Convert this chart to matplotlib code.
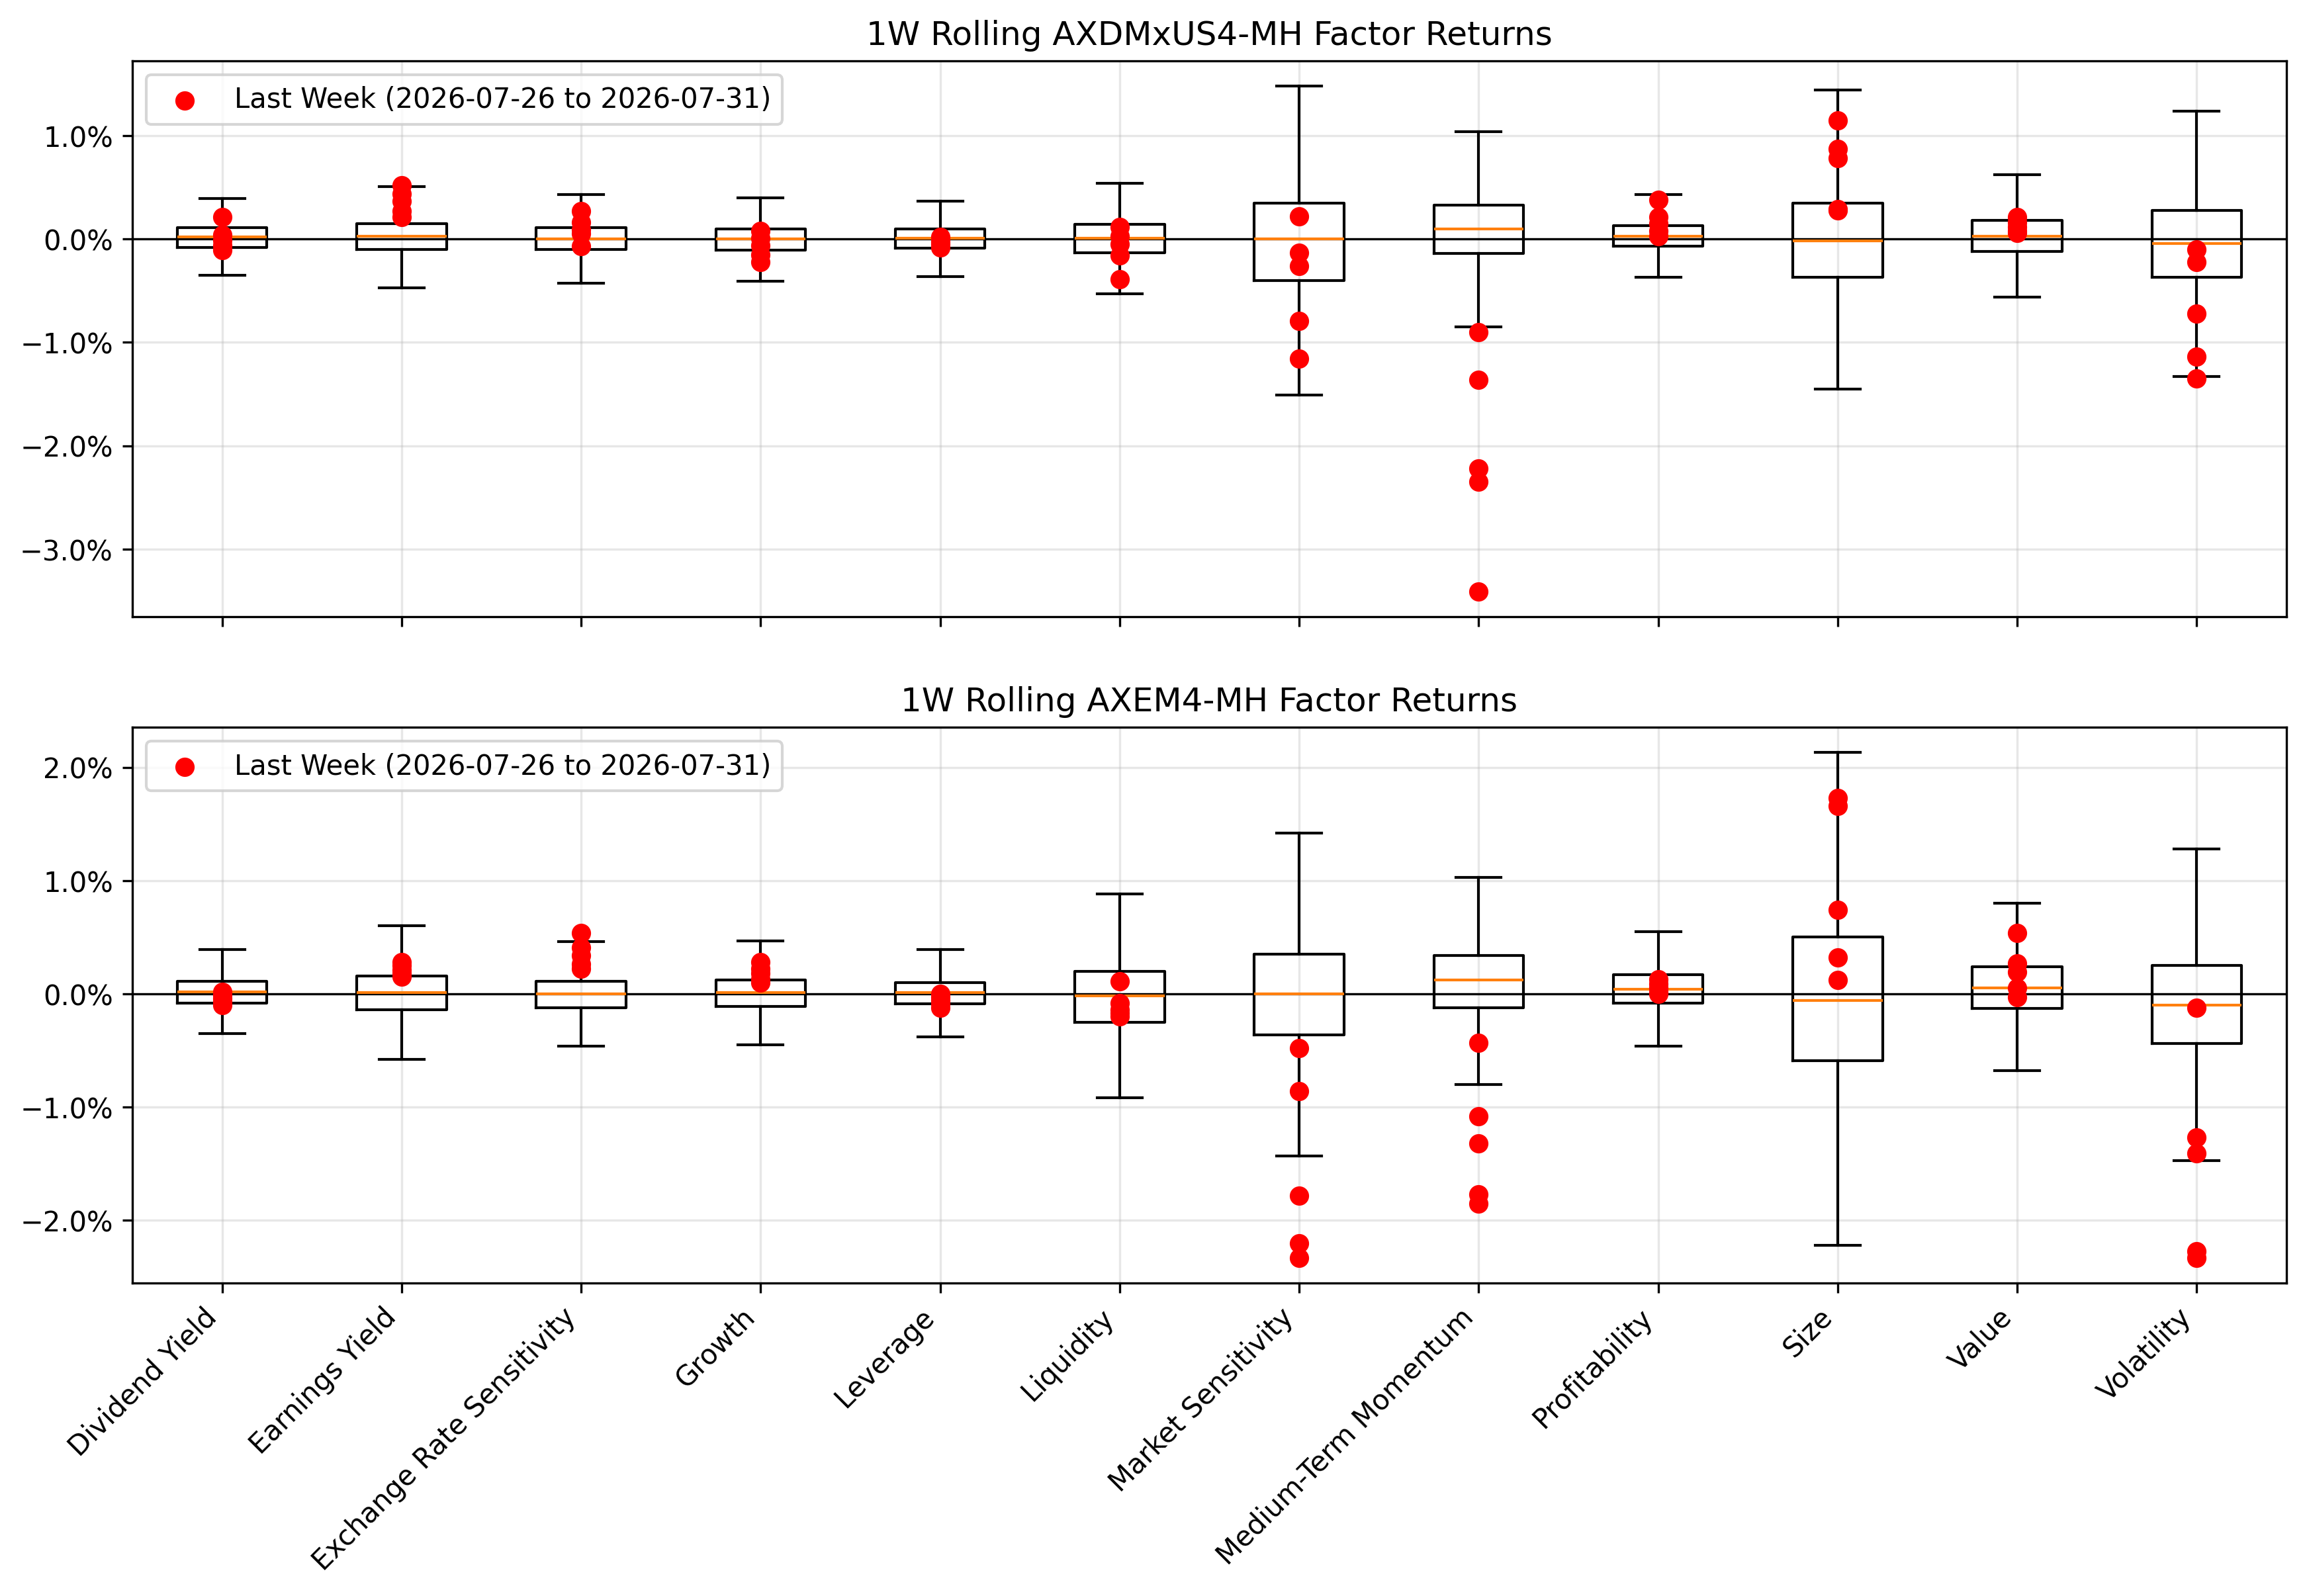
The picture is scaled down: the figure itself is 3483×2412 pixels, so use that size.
import numpy as np
import matplotlib
matplotlib.use("Agg")
import matplotlib.pyplot as plt
from matplotlib.ticker import PercentFormatter

factors = ["Dividend Yield", "Earnings Yield", "Exchange Rate Sensitivity", "Growth",
           "Leverage", "Liquidity", "Market Sensitivity", "Medium-Term Momentum",
           "Profitability", "Size", "Value", "Volatility"]

legend_label = "Last Week (2026-07-26 to 2026-07-31)"

# all values in percent
# --- AXDMxUS4-MH ---
dm_whislo = [-0.35, -0.47, -0.43, -0.41, -0.36, -0.53, -1.51, -0.85, -0.37, -1.45, -0.56, -1.33]
dm_q1     = [-0.08, -0.10, -0.10, -0.11, -0.09, -0.13, -0.40, -0.14, -0.07, -0.37, -0.12, -0.37]
dm_med    = [0.02, 0.03, 0.00, 0.00, 0.01, 0.01, 0.00, 0.10, 0.03, -0.02, 0.03, -0.04]
dm_q3     = [0.11, 0.15, 0.11, 0.10, 0.10, 0.14, 0.35, 0.33, 0.13, 0.35, 0.18, 0.28]
dm_whishi = [0.39, 0.51, 0.43, 0.40, 0.37, 0.54, 1.48, 1.04, 0.43, 1.44, 0.62, 1.24]
dm_last = [
    [0.21, 0.04, -0.01, -0.06, -0.11],
    [0.52, 0.44, 0.37, 0.27, 0.21],
    [0.27, 0.16, 0.09, 0.05, -0.07],
    [0.08, 0.01, -0.06, -0.15, -0.22],
    [0.02, -0.01, -0.03, -0.05, -0.08],
    [0.12, 0.03, -0.05, -0.16, -0.39],
    [0.22, -0.13, -0.26, -0.79, -1.16],
    [-0.90, -1.36, -2.22, -2.35, -3.41],
    [0.38, 0.21, 0.15, 0.08, 0.03],
    [1.15, 0.87, 0.78, 0.29, 0.28],
    [0.21, 0.16, 0.12, 0.08, 0.06],
    [-0.10, -0.22, -0.72, -1.14, -1.35],
]

# --- AXEM4-MH ---
em_whislo = [-0.35, -0.58, -0.46, -0.45, -0.38, -0.92, -1.43, -0.80, -0.46, -2.22, -0.68, -1.47]
em_q1     = [-0.08, -0.14, -0.12, -0.11, -0.09, -0.25, -0.36, -0.12, -0.08, -0.59, -0.13, -0.44]
em_med    = [0.02, 0.01, 0.00, 0.01, 0.01, -0.02, 0.00, 0.12, 0.04, -0.06, 0.05, -0.10]
em_q3     = [0.11, 0.16, 0.11, 0.12, 0.10, 0.20, 0.35, 0.34, 0.17, 0.50, 0.24, 0.25]
em_whishi = [0.39, 0.60, 0.46, 0.47, 0.39, 0.88, 1.42, 1.03, 0.55, 2.13, 0.80, 1.28]
em_last = [
    [0.02, -0.01, -0.04, -0.07, -0.10],
    [0.28, 0.25, 0.21, 0.18, 0.15],
    [0.54, 0.41, 0.34, 0.26, 0.22],
    [0.28, 0.22, 0.18, 0.13, 0.10],
    [0.00, -0.03, -0.06, -0.09, -0.12],
    [0.11, -0.08, -0.14, -0.17, -0.20],
    [-0.48, -0.86, -1.78, -2.20, -2.33],
    [-0.43, -1.08, -1.32, -1.77, -1.85],
    [0.13, 0.09, 0.05, 0.02, 0.00],
    [1.73, 1.66, 0.74, 0.32, 0.12],
    [0.54, 0.27, 0.19, 0.05, -0.03],
    [-0.12, -1.27, -1.41, -2.27, -2.33],
]

panels = [
    ("1W Rolling AXDMxUS4-MH Factor Returns", dm_whislo, dm_q1, dm_med, dm_q3, dm_whishi, dm_last),
    ("1W Rolling AXEM4-MH Factor Returns", em_whislo, em_q1, em_med, em_q3, em_whishi, em_last),
]

fig, axes = plt.subplots(2, 1, figsize=(11.613, 8.043), sharex=True)
fig.subplots_adjust(left=0.0574, right=0.9917, top=0.9615, bottom=0.196, hspace=0.199)

pos = np.arange(1, len(factors) + 1)

for ax, (title, lo, q1, med, q3, hi, last) in zip(axes, panels):
    stats = []
    for i in range(len(factors)):
        stats.append({"whislo": lo[i], "q1": q1[i], "med": med[i],
                      "q3": q3[i], "whishi": hi[i], "fliers": []})
    ax.bxp(stats, positions=pos, widths=0.5, showfliers=False)

    for i, vals in enumerate(last):
        ax.scatter([pos[i]] * len(vals), vals, color="red", zorder=3,
                   label=legend_label if i == 0 else None)

    ax.axhline(0, color="black", linewidth=0.8)
    ax.set_title(title)
    ax.yaxis.set_major_formatter(PercentFormatter(xmax=100, decimals=1))
    ax.grid(True, alpha=0.3)
    ax.legend(loc="upper left")

axes[1].set_xticks(pos)
axes[1].set_xticklabels(factors, rotation=45, ha="right")

plt.savefig("out.png", dpi=300)
